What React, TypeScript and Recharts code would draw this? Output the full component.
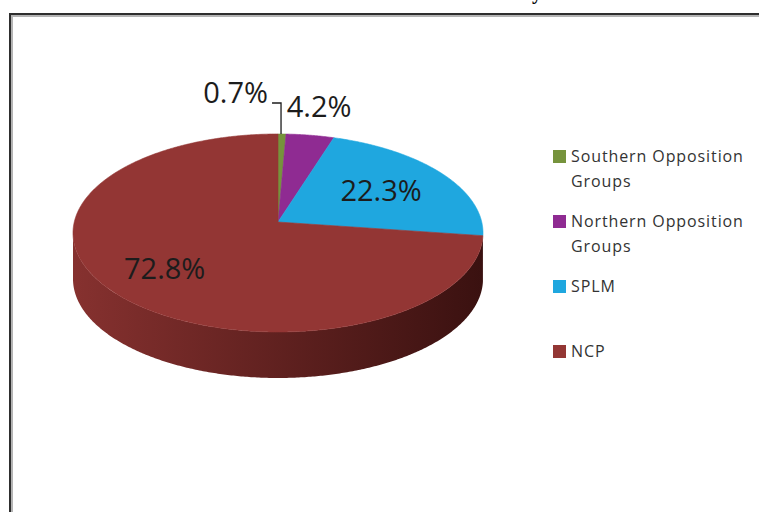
import { PieChart, Pie, Cell, Legend } from "recharts";

const parties = ["Southern Opposition Groups", "Northern Opposition Groups", "SPLM", "NCP"];
const shares = [0.7, 4.2, 22.3, 72.8];
const faceColors = ["#76933c", "#8f2b92", "#1fa7df", "#933634"];
const sideLight = ["#5c7530", "#6e2070", "#1782b0", "#86312f"];
const sideDark = ["#33421a", "#3d1240", "#0c4864", "#3a1110"];

const data = parties.map((name, i) => ({ name, value: shares[i] }));

const W = 759;
const H = 512;
const CX = 278;
const CY = 222;
const R = 205;
const TILT = 99 / 205; // flattening of the top face
const PERSP = 0.111; // far rim shrink, pushes the centre up
const DEPTH = 46;
const RAD = Math.PI / 180;
const EDGE = Math.asin(PERSP) / RAD;
const FONT = "'Open Sans', sans-serif";

// 3d-ish projection of a point on the pie disc
const project = (cx: number, cy: number, r: number, deg: number, f = 1) => {
  const s = r * Math.sqrt(1 - PERSP * PERSP);
  const t = r * TILT * (1 - PERSP * PERSP);
  const u = f * Math.cos(deg * RAD);
  const v = f * Math.sin(deg * RAD);
  const w = 1 + PERSP * v;
  return { x: cx + (s * u) / w, y: cy - (t * v) / w };
};

const arc = (cx: number, cy: number, r: number, from: number, to: number, dy = 0) => {
  const n = Math.max(2, Math.ceil(Math.abs(to - from) / 0.5));
  const pts: string[] = [];
  for (let i = 0; i <= n; i++) {
    const p = project(cx, cy, r, from + ((to - from) * i) / n);
    pts.push(`${p.x.toFixed(2)},${(p.y + dy).toFixed(2)}`);
  }
  return pts;
};

const renderFace = (props: any) => {
  const { cx, cy, outerRadius, startAngle, endAngle, index } = props;
  const lo = Math.max(endAngle, -180 + EDGE);
  const hi = Math.min(startAngle, -EDGE);
  const left = project(cx, cy, outerRadius, -180 + EDGE).x;
  const right = project(cx, cy, outerRadius, -EDGE).x;
  const color = faceColors[index];
  return (
    <g>
      {lo < hi && (
        <>
          <defs>
            <linearGradient id={`side${index}`} gradientUnits="userSpaceOnUse" x1={left} x2={right} y1={0} y2={0}>
              <stop offset="0" stopColor={sideLight[index]} />
              <stop offset="1" stopColor={sideDark[index]} />
            </linearGradient>
          </defs>
          <path
            d={"M" + [...arc(cx, cy, outerRadius, lo, hi), ...arc(cx, cy, outerRadius, hi, lo, DEPTH)].join("L") + "Z"}
            fill={`url(#side${index})`}
          />
        </>
      )}
      <path
        d={`M${cx},${cy}L${arc(cx, cy, outerRadius, startAngle, endAngle).join("L")}Z`}
        fill={color}
        stroke={color}
        strokeWidth={0.6}
      />
    </g>
  );
};

const renderText = (props: any) => {
  const { cx, cy, outerRadius, midAngle, percent, value } = props;
  const txt = `${Number(value).toFixed(1)}%`;
  const textProps = { fontFamily: FONT, fontSize: 29, fill: "#1c1c1c" };
  if (percent >= 0.1) {
    const p = project(cx, cy, outerRadius, midAngle, percent > 0.5 ? 0.7 : 0.62);
    return (
      <text x={p.x} y={p.y + 10} textAnchor="middle" {...textProps}>
        {txt}
      </text>
    );
  }
  const e = project(cx, cy, outerRadius, midAngle);
  if (percent < 0.02) {
    const ty = e.y - 31;
    return (
      <g>
        <polyline
          points={`${e.x - 1},${e.y} ${e.x - 1},${ty} ${e.x - 10},${ty}`}
          stroke="#1c1c1c"
          strokeWidth={1.3}
          fill="none"
        />
        <text x={e.x - 14} y={ty} textAnchor="end" {...textProps}>
          {txt}
        </text>
      </g>
    );
  }
  return (
    <text x={e.x + 9} y={e.y - 18} textAnchor="middle" {...textProps}>
      {txt}
    </text>
  );
};

const renderLegend = () => (
  <div style={{ fontFamily: FONT, fontSize: 16, letterSpacing: 0.9, color: "#333" }}>
    {parties.map((name, i) => (
      <div key={name} style={{ position: "relative", height: 65 }}>
        <div
          style={{
            position: "absolute",
            left: 0,
            top: 6,
            width: 13,
            height: 13,
            background: faceColors[i],
          }}
        />
        <div style={{ position: "absolute", left: 18, top: 0, width: 186, lineHeight: "25px" }}>{name}</div>
      </div>
    ))}
  </div>
);

export default function App() {
  return (
    <div style={{ position: "relative", width: W, height: H, overflow: "hidden", background: "#fff" }}>
      <style>{"body{margin:0}"}</style>
      <span
        style={{
          position: "absolute",
          left: 532,
          top: -18,
          fontFamily: "'Liberation Serif', serif",
          fontWeight: "bold",
          fontSize: 20,
          lineHeight: "20px",
        }}
      >
        y
      </span>
      <div
        style={{
          position: "absolute",
          left: 9,
          top: 13,
          width: 900,
          height: 700,
          borderTop: "2px solid #2e2e2e",
          borderLeft: "2px solid #2e2e2e",
        }}
      >
        <div style={{ width: "100%", height: "100%", borderTop: "2px solid #b4b4b4", borderLeft: "2px solid #b4b4b4" }} />
      </div>
      <div style={{ position: "absolute", left: 0, top: 0 }}>
        <PieChart width={W} height={H} margin={{ top: 0, right: 0, bottom: 0, left: 0 }}>
          <Pie
            data={data}
            dataKey="value"
            nameKey="name"
            cx={CX}
            cy={CY}
            outerRadius={R}
            startAngle={90}
            endAngle={-270}
            stroke="none"
            fillOpacity={0}
            label={renderFace}
            labelLine={false}
            isAnimationActive={false}
          >
            {data.map((d, i) => (
              <Cell key={d.name} fill={faceColors[i]} />
            ))}
          </Pie>
          <Pie
            data={data}
            dataKey="value"
            nameKey="name"
            cx={CX}
            cy={CY}
            outerRadius={R}
            startAngle={90}
            endAngle={-270}
            stroke="none"
            fill="transparent"
            legendType="none"
            label={renderText}
            labelLine={false}
            isAnimationActive={false}
          />
          <Legend
            layout="vertical"
            align="right"
            verticalAlign="top"
            content={renderLegend}
            wrapperStyle={{ left: 553, top: 143.5, width: 206 }}
          />
        </PieChart>
      </div>
    </div>
  );
}
